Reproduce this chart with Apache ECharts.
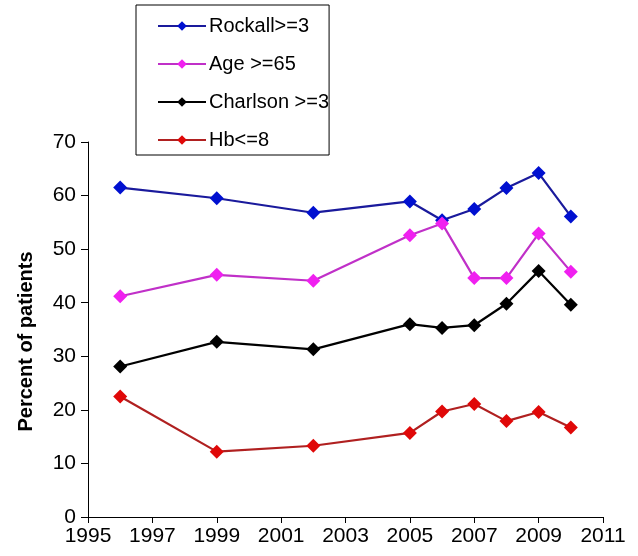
<!DOCTYPE html>
<html>
<head>
<meta charset="utf-8">
<script src="https://cdn.jsdelivr.net/npm/echarts@6/dist/echarts.min.js"></script>
<style>html,body{margin:0;padding:0;background:#fff}#c{width:638px;height:556px}</style>
</head>
<body>
<div id="c"></div>
<script>
var years = [1996, 1999, 2002, 2005, 2006, 2007, 2008, 2009, 2010];
var rockall = [61.5, 59.5, 56.8, 58.9, 55.4, 57.5, 61.4, 64.2, 56.1];
var age65 = [41.2, 45.2, 44.1, 52.6, 54.8, 44.6, 44.6, 52.9, 45.8];
var charlson = [28.1, 32.7, 31.3, 36.0, 35.3, 35.8, 39.8, 45.9, 39.6];
var hb = [22.5, 12.2, 13.3, 15.7, 19.7, 21.1, 17.9, 19.6, 16.7];
var seriesNames = ['Rockall>=3', 'Age >=65', 'Charlson >=3', 'Hb<=8'];
var yTicks = [0, 10, 20, 30, 40, 50, 60, 70];

function pairs(v) { return years.map(function (y, i) { return [y, v[i]]; }); }
function mk(name, vals, lineColor, markColor) {
  return {
    name: name, type: 'line', data: pairs(vals),
    symbol: 'diamond', symbolSize: 14,
    lineStyle: { color: lineColor, width: 2.2 },
    itemStyle: { color: markColor },
    color: markColor
  };
}
var chart = echarts.init(document.getElementById('c'), null, { renderer: 'canvas' });
chart.setOption({
  animation: false,
  textStyle: { fontFamily: 'Liberation Sans, Arial, sans-serif' },
  grid: { left: 88, right: 35, top: 142, bottom: 39 },
  legend: {
    orient: 'vertical', left: 136, top: 5,
    padding: [11, 0, 5, 21],
    itemGap: 18, itemWidth: 48, itemHeight: 12,
    borderColor: '#000', borderWidth: 1, backgroundColor: '#fff',
    textStyle: { fontSize: 20, color: '#000', padding: [0, 0, 0, -2], lineHeight: 20 },
    data: seriesNames
  },
  xAxis: {
    type: 'value', min: 1995, max: 2011, interval: 2,
    axisLine: { lineStyle: { color: '#000', width: 1 } },
    axisTick: { show: true, length: 6, lineStyle: { color: '#000' } },
    axisLabel: { fontSize: 21, color: '#000', margin: 9, formatter: function (v) { return String(v); } },
    splitLine: { show: false }
  },
  yAxis: {
    type: 'value', min: yTicks[0], max: yTicks[yTicks.length - 1], interval: 10,
    name: 'Percent of patients', nameLocation: 'middle', nameGap: 52,
    nameTextStyle: { fontSize: 20, fontWeight: 'bold', color: '#000', padding: [0, 24, 0, 0] },
    axisLine: { show: true, lineStyle: { color: '#000', width: 1 } },
    axisTick: { show: true, length: 7, lineStyle: { color: '#000' } },
    axisLabel: { fontSize: 21, color: '#000', margin: 12 },
    splitLine: { show: false }
  },
  series: [
    mk(seriesNames[0], rockall, '#1a1a9c', '#0010d0'),
    mk(seriesNames[1], age65, '#c030c8', '#f020f0'),
    mk(seriesNames[2], charlson, '#000000', '#000000'),
    mk(seriesNames[3], hb, '#b02020', '#e00808')
  ]
});
</script>
</body>
</html>
